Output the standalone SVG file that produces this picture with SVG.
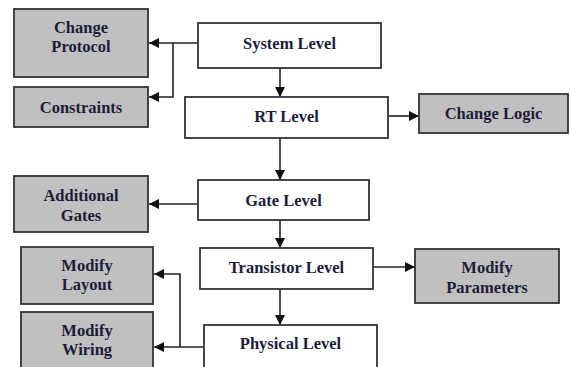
<svg xmlns="http://www.w3.org/2000/svg" width="570" height="367" viewBox="0 0 570 367">
<style>
.w{fill:#ffffff;stroke:#333333;stroke-width:1.8}
.g{fill:#c0c0c0;stroke:#333333;stroke-width:1.8}
text{font-family:"Liberation Serif","Times New Roman",serif;font-weight:bold;font-size:16.5px;fill:#1c1c3a;text-anchor:middle}
.c{fill:none;stroke:#222222;stroke-width:1.6}
</style>
<defs>
<marker id="ah" viewBox="0 0 10 10" refX="10" refY="5" markerWidth="10" markerHeight="10" markerUnits="userSpaceOnUse" orient="auto">
<path d="M0,0 L10,5 L0,10 Z" fill="#111111"/>
</marker>
</defs>
<rect width="570" height="367" fill="#ffffff"/>
<g id="connectors">
<path class="c" d="M198,43 H149" marker-end="url(#ah)"/>
<path class="c" d="M173,43 V97 H149" marker-end="url(#ah)"/>
<path class="c" d="M280,68 V97" marker-end="url(#ah)"/>
<path class="c" d="M388,116 H419" marker-end="url(#ah)"/>
<path class="c" d="M280,138 V180" marker-end="url(#ah)"/>
<path class="c" d="M198,204 H149" marker-end="url(#ah)"/>
<path class="c" d="M280,220 V248" marker-end="url(#ah)"/>
<path class="c" d="M373,267 H415" marker-end="url(#ah)"/>
<path class="c" d="M280,289 V325" marker-end="url(#ah)"/>
<path class="c" d="M204,347 H154" marker-end="url(#ah)"/>
<path class="c" d="M180,347 V274 H154" marker-end="url(#ah)"/>
</g>
<g id="change-protocol"><rect class="g" x="14" y="9" width="134" height="68"/><text x="81" y="33">Change</text><text x="81" y="52">Protocol</text></g>
<g id="constraints"><rect class="g" x="14" y="87" width="134" height="40"/><text x="81" y="113">Constraints</text></g>
<g id="system-level"><rect class="w" x="198" y="23" width="183" height="45"/><text x="289.5" y="49">System Level</text></g>
<g id="rt-level"><rect class="w" x="185" y="97" width="203" height="41"/><text x="286.5" y="122">RT Level</text></g>
<g id="change-logic"><rect class="g" x="419" y="94" width="149" height="39"/><text x="493.5" y="119">Change Logic</text></g>
<g id="additional-gates"><rect class="g" x="14" y="176" width="134" height="56"/><text x="81" y="201">Additional</text><text x="81" y="221">Gates</text></g>
<g id="gate-level"><rect class="w" x="198" y="180" width="171" height="40"/><text x="283.5" y="206">Gate Level</text></g>
<g id="transistor-level"><rect class="w" x="200" y="248" width="173" height="41"/><text x="286.5" y="273">Transistor Level</text></g>
<g id="modify-layout"><rect class="g" x="21" y="247" width="132" height="57"/><text x="87" y="271">Modify</text><text x="87" y="290">Layout</text></g>
<g id="modify-parameters"><rect class="g" x="415" y="249" width="144" height="54"/><text x="487" y="273">Modify</text><text x="487" y="293">Parameters</text></g>
<g id="modify-wiring"><rect class="g" x="21" y="312" width="132" height="70"/><text x="87" y="336">Modify</text><text x="87" y="355">Wiring</text></g>
<g id="physical-level"><rect class="w" x="204" y="325" width="173" height="60"/><text x="290.5" y="349">Physical Level</text></g>
</svg>
